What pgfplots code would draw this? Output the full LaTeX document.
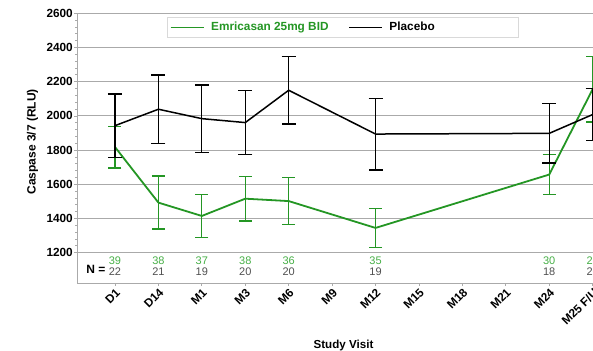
\documentclass[border=0pt]{standalone}
\usepackage{pgfplots}
\pgfplotsset{compat=1.18}
\usepackage{fontspec}
\setmainfont{Liberation Sans}
\definecolor{emgreen}{RGB}{36,150,36}
\definecolor{ngreen}{RGB}{70,175,70}
\definecolor{ngray}{RGB}{80,80,80}
\definecolor{gridgray}{RGB}{170,170,170}
\begin{document}
\begin{tikzpicture}
\useasboundingbox (0,0) rectangle (593pt,350pt);
\clip (0,0) rectangle (593pt,350pt);
\begin{axis}[
  at={(77pt,67pt)}, anchor=south west,
  scale only axis, width=533pt, height=269.7pt,
  xmin=-0.875, xmax=11.4, ymin=1023, ymax=2600,
  axis line style={gridgray, line width=1pt},
  ytick={1200,1400,...,2600},
  minor y tick num=4,
  xtick={0,...,11},
  xticklabels={D1,D14,M1,M3,M6,M9,M12,M15,M18,M21,M24,M25 F/U},
  xtick pos=bottom, ytick pos=left,
  tick align=outside,
  major tick length=3pt, minor tick length=2pt,
  tick style={gridgray, line width=0.8pt},
  ymajorgrids, grid style={gridgray, line width=1pt},
  /pgf/number format/.cd, 1000 sep={}, assume math mode=true,
  /pgfplots/.cd,
  ticklabel style={font=\fontsize{11.8}{13}\selectfont\bfseries},
  xticklabel style={rotate=45, anchor=north east, inner sep=1pt},
  yticklabel style={inner sep=1pt},
  xlabel={Study Visit},
  xlabel style={font=\fontsize{11.6}{13}\selectfont\bfseries, at={(axis description cs:0.5,-0.23)}, anchor=center},
  ylabel={Caspase 3/7 (RLU)},
  ylabel style={font=\fontsize{12}{13}\selectfont\bfseries, at={(axis description cs:-0.0835,0.523)}, anchor=center, rotate=0},
  legend columns=2,
  legend cell align=left,
  legend image code/.code={\draw[#1, line width=0.9pt] (0pt,0pt) -- (33pt,0pt);},
  legend style={at={(rel axis cs:0.169,0.986)}, anchor=north west,
    draw=gray!30, fill=white, font=\fontsize{11.8}{13}\selectfont\bfseries,
    inner xsep=3pt, inner ysep=3pt,
    /tikz/every odd column/.append style={column sep=5pt},
    /tikz/every even column/.append style={column sep=18pt}},
]
\addplot[emgreen, line width=1.8pt,
  error bars/.cd, y dir=both, y explicit,
  error bar style={line width=1.3pt, emgreen},
  error mark options={rotate=90, mark size=6.5pt, line width=1.3pt, emgreen}]
coordinates {
(0,1818) +- (0,122)
(1,1493) +- (0,155)
(2,1415) +- (0,126)
(3,1516) +- (0,130)
(4,1502) +- (0,138)
(6,1345) +- (0,115)
(10,1657) +- (0,118)
(11,2156) +- (0,192)
};
\addlegendentry{\textcolor{emgreen}{Emricasan 25mg BID}}
\addplot[black, line width=1.5pt,
  error bars/.cd, y dir=both, y explicit,
  error bar style={line width=1.2pt, black},
  error mark options={rotate=90, mark size=7pt, line width=1.2pt, black}]
coordinates {
(0,1943) +- (0,185)
(1,2039) +- (0,200)
(2,1984) +- (0,197)
(3,1961) +- (0,188)
(4,2150) +- (0,197)
(6,1894) +- (0,210)
(10,1898) +- (0,173)
(11,2008) +- (0,152)
};
\addlegendentry{Placebo\hspace*{78pt}}
% N counts
\addplot[forget plot, draw=none, mark=none, nodes near coords, point meta=explicit symbolic,
  every node near coord/.append style={anchor=center, text=ngreen, font=\fontsize{11}{12}\selectfont}]
coordinates {
(0,1152)[39] (1,1152)[38] (2,1152)[37] (3,1152)[38] (4,1152)[36]
(6,1152)[35] (10,1152)[30] (11,1152)[29]
};
\addplot[forget plot, draw=none, mark=none, nodes near coords, point meta=explicit symbolic,
  every node near coord/.append style={anchor=center, text=ngray, font=\fontsize{11}{12}\selectfont}]
coordinates {
(0,1089)[22] (1,1089)[21] (2,1089)[19] (3,1089)[20] (4,1089)[20]
(6,1089)[19] (10,1089)[18] (11,1089)[20]
};
\addplot[forget plot, draw=none, mark=none, nodes near coords, point meta=explicit symbolic,
  every node near coord/.append style={anchor=center, text=black, font=\fontsize{12}{13}\selectfont\bfseries}]
coordinates {
(-0.44,1100)[N =]
};
\end{axis}
\end{tikzpicture}
\end{document}
